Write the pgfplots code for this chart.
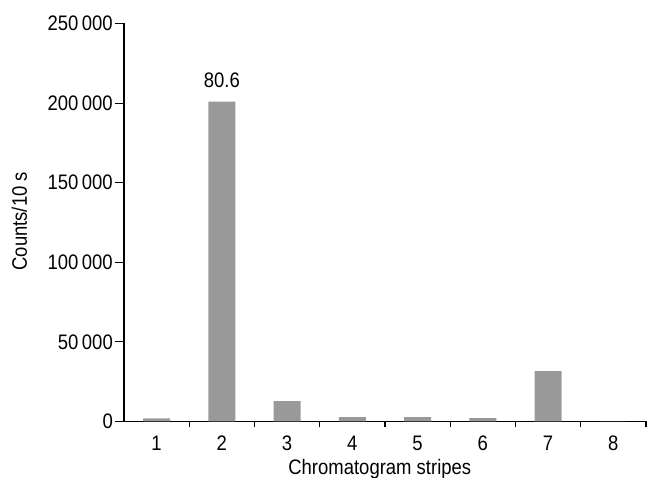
\documentclass[border=0pt]{standalone}
\usepackage{fontspec}
\setmainfont{Liberation Sans}[FakeStretch=0.88]
\usepackage{pgfplots}
\pgfplotsset{compat=1.18}
\definecolor{bargray}{RGB}{153,153,153}
\begin{document}
\fontsize{21}{25}\selectfont
\begin{tikzpicture}
\useasboundingbox (-124pt,-56.5pt) rectangle (523pt,421.5pt);
\begin{axis}[
  scale only axis, width=522pt, height=398pt,
  at={(0,0)}, anchor=south west,
  xmin=0.5, xmax=8.5, ymin=0, ymax=250000,
  scaled y ticks=false,
  axis x line=bottom, axis y line=left,
  axis line style={-, line width=1.1pt},
  every tick/.style={line width=1.1pt, black},
  tick align=outside,
  major tick length=9pt,
  xtick={1,...,8},
  xticklabels={1,2,3,4,5,6,7,8},
  xtick style={draw=none},
  xticklabel style={inner sep=5pt},
  extra x ticks={1.5,2.5,...,8.5},
  extra x tick labels={},
  extra x tick style={xtick style={draw=black}, major tick length=6pt},
  ytick={0,50000,100000,150000,200000,250000},
  yticklabels={0,50\,000,100\,000,150\,000,200\,000,250\,000},
  yticklabel style={inner sep=2pt},
  xlabel={Chromatogram stripes},
  xlabel style={at={(axis description cs:0.49,0)}, anchor=base, yshift=-53.5pt},
  ylabel={Counts/10 s},
  ylabel style={at={(axis description cs:0,0.503)}, anchor=base, yshift=97pt},
  clip=false,
]
\addplot[ybar, bar width=27pt, fill=bargray, draw=none] coordinates {
  (1,2000) (2,201000) (3,12800) (4,2700) (5,2700) (6,2100) (7,31600) (8,0)
};
\node[anchor=base] at (axis cs:2,201000) [yshift=13.7pt] {80.6};
\end{axis}
\end{tikzpicture}
\end{document}
